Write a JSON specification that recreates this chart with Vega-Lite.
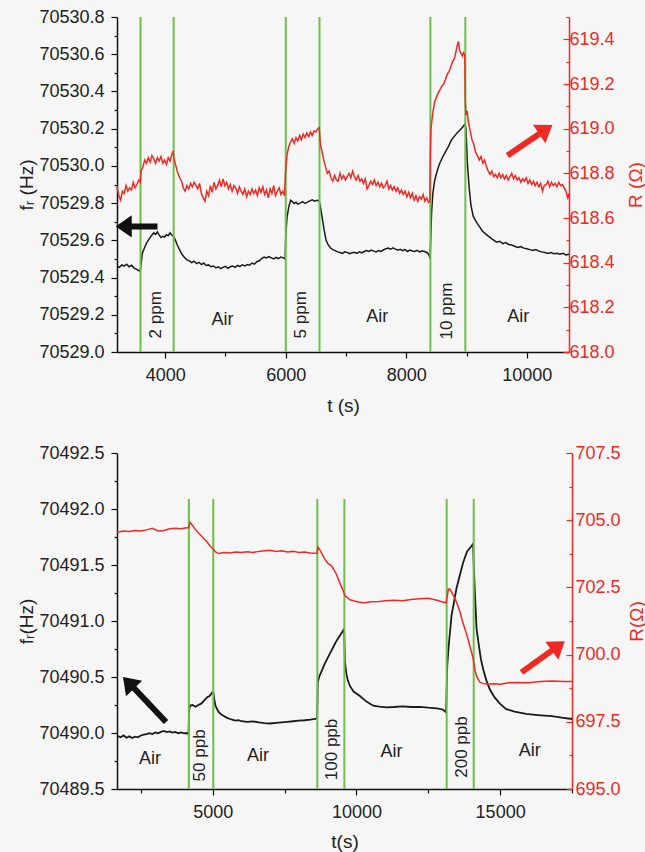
{
  "$schema": "https://vega.github.io/schema/vega-lite/v6.json",
  "background": "#f6f6f6",
  "padding": {"left": 17, "top": 8, "right": 73, "bottom": 60},
  "spacing": 101,
  "bounds": "flush",
  "config": {
    "view": {"stroke": null},
    "font": "Liberation Sans",
    "axis": {
      "labelFont": "Liberation Sans", "labelFontSize": 18, "labelColor": "#222",
      "titleFont": "Liberation Sans", "titleFontSize": 19, "titleFontWeight": "normal", "titleColor": "#222",
      "grid": false, "domainColor": "#111", "tickColor": "#111", "domainWidth": 1.5, "tickWidth": 1.2,
      "labelPadding": 4, "labelOverlap": false
    },
    "text": {"font": "Liberation Sans", "color": "#222"}
  },
  "datasets": {
    "topF": [
      {"t":3200,"f":70529.461},{"t":3240,"f":70529.455},{"t":3280,"f":70529.468},{"t":3320,"f":70529.462},{"t":3360,"f":70529.472},{"t":3400,"f":70529.458},{"t":3440,"f":70529.466},{"t":3480,"f":70529.452},{"t":3520,"f":70529.445},{"t":3560,"f":70529.438},{"t":3585,"f":70529.432},{"t":3600,"f":70529.47},{"t":3620,"f":70529.53},{"t":3650,"f":70529.555},{"t":3690,"f":70529.585},{"t":3730,"f":70529.605},{"t":3770,"f":70529.625},{"t":3810,"f":70529.64},{"t":3840,"f":70529.632},{"t":3870,"f":70529.645},{"t":3900,"f":70529.628},{"t":3930,"f":70529.615},{"t":3960,"f":70529.622},{"t":3990,"f":70529.618},{"t":4020,"f":70529.63},{"t":4050,"f":70529.625},{"t":4080,"f":70529.64},{"t":4110,"f":70529.628},{"t":4140,"f":70529.62},{"t":4170,"f":70529.6},{"t":4200,"f":70529.575},{"t":4230,"f":70529.555},{"t":4260,"f":70529.535},{"t":4290,"f":70529.52},{"t":4320,"f":70529.508},{"t":4360,"f":70529.495},{"t":4400,"f":70529.49},{"t":4440,"f":70529.48},{"t":4480,"f":70529.488},{"t":4520,"f":70529.475},{"t":4560,"f":70529.482},{"t":4600,"f":70529.47},{"t":4640,"f":70529.478},{"t":4680,"f":70529.465},{"t":4720,"f":70529.468},{"t":4760,"f":70529.458},{"t":4800,"f":70529.462},{"t":4840,"f":70529.452},{"t":4880,"f":70529.458},{"t":4920,"f":70529.448},{"t":4960,"f":70529.455},{"t":5000,"f":70529.46},{"t":5040,"f":70529.45},{"t":5080,"f":70529.458},{"t":5120,"f":70529.462},{"t":5160,"f":70529.455},{"t":5200,"f":70529.465},{"t":5240,"f":70529.46},{"t":5280,"f":70529.468},{"t":5320,"f":70529.462},{"t":5360,"f":70529.47},{"t":5400,"f":70529.466},{"t":5440,"f":70529.478},{"t":5480,"f":70529.472},{"t":5520,"f":70529.485},{"t":5560,"f":70529.49},{"t":5600,"f":70529.502},{"t":5640,"f":70529.51},{"t":5680,"f":70529.505},{"t":5720,"f":70529.512},{"t":5760,"f":70529.506},{"t":5800,"f":70529.5},{"t":5840,"f":70529.508},{"t":5880,"f":70529.502},{"t":5920,"f":70529.51},{"t":5960,"f":70529.506},{"t":5990,"f":70529.5},{"t":6000,"f":70529.62},{"t":6020,"f":70529.72},{"t":6050,"f":70529.78},{"t":6080,"f":70529.815},{"t":6110,"f":70529.808},{"t":6140,"f":70529.798},{"t":6170,"f":70529.805},{"t":6200,"f":70529.795},{"t":6240,"f":70529.8},{"t":6280,"f":70529.808},{"t":6320,"f":70529.798},{"t":6360,"f":70529.805},{"t":6400,"f":70529.812},{"t":6440,"f":70529.818},{"t":6480,"f":70529.81},{"t":6520,"f":70529.815},{"t":6555,"f":70529.812},{"t":6580,"f":70529.77},{"t":6610,"f":70529.71},{"t":6640,"f":70529.65},{"t":6670,"f":70529.6},{"t":6700,"f":70529.578},{"t":6740,"f":70529.56},{"t":6780,"f":70529.55},{"t":6820,"f":70529.545},{"t":6860,"f":70529.538},{"t":6900,"f":70529.535},{"t":6940,"f":70529.53},{"t":6980,"f":70529.538},{"t":7020,"f":70529.535},{"t":7060,"f":70529.528},{"t":7100,"f":70529.533},{"t":7140,"f":70529.536},{"t":7180,"f":70529.53},{"t":7220,"f":70529.538},{"t":7260,"f":70529.533},{"t":7300,"f":70529.54},{"t":7340,"f":70529.545},{"t":7380,"f":70529.54},{"t":7420,"f":70529.548},{"t":7460,"f":70529.542},{"t":7500,"f":70529.538},{"t":7540,"f":70529.545},{"t":7580,"f":70529.54},{"t":7620,"f":70529.548},{"t":7660,"f":70529.555},{"t":7700,"f":70529.558},{"t":7740,"f":70529.552},{"t":7780,"f":70529.56},{"t":7820,"f":70529.553},{"t":7860,"f":70529.547},{"t":7900,"f":70529.552},{"t":7940,"f":70529.545},{"t":7980,"f":70529.55},{"t":8020,"f":70529.54},{"t":8060,"f":70529.548},{"t":8100,"f":70529.543},{"t":8140,"f":70529.54},{"t":8180,"f":70529.546},{"t":8220,"f":70529.538},{"t":8260,"f":70529.544},{"t":8300,"f":70529.54},{"t":8340,"f":70529.535},{"t":8380,"f":70529.52},{"t":8395,"f":70529.5},{"t":8405,"f":70529.6},{"t":8420,"f":70529.75},{"t":8440,"f":70529.85},{"t":8470,"f":70529.92},{"t":8510,"f":70529.97},{"t":8550,"f":70530.01},{"t":8600,"f":70530.045},{"t":8650,"f":70530.075},{"t":8700,"f":70530.105},{"t":8750,"f":70530.14},{"t":8800,"f":70530.16},{"t":8850,"f":70530.18},{"t":8900,"f":70530.195},{"t":8940,"f":70530.21},{"t":8975,"f":70530.225},{"t":8990,"f":70530.2},{"t":9016,"f":70530.0},{"t":9045,"f":70529.88},{"t":9072,"f":70529.79},{"t":9110,"f":70529.73},{"t":9155,"f":70529.703},{"t":9200,"f":70529.68},{"t":9265,"f":70529.649},{"t":9350,"f":70529.625},{"t":9431,"f":70529.605},{"t":9500,"f":70529.59},{"t":9550,"f":70529.595},{"t":9600,"f":70529.582},{"t":9650,"f":70529.588},{"t":9700,"f":70529.578},{"t":9750,"f":70529.575},{"t":9800,"f":70529.568},{"t":9850,"f":70529.562},{"t":9900,"f":70529.566},{"t":9950,"f":70529.558},{"t":10000,"f":70529.555},{"t":10050,"f":70529.55},{"t":10100,"f":70529.546},{"t":10150,"f":70529.55},{"t":10200,"f":70529.542},{"t":10250,"f":70529.538},{"t":10300,"f":70529.535},{"t":10350,"f":70529.53},{"t":10400,"f":70529.534},{"t":10450,"f":70529.528},{"t":10500,"f":70529.53},{"t":10550,"f":70529.525},{"t":10600,"f":70529.53},{"t":10650,"f":70529.522},{"t":10700,"f":70529.525}
    ],
    "topR": [
      {"t":3200,"r":618.74},{"t":3230,"r":618.70},{"t":3260,"r":618.68},{"t":3290,"r":618.72},{"t":3320,"r":618.71},{"t":3350,"r":618.745},{"t":3380,"r":618.72},{"t":3410,"r":618.735},{"t":3440,"r":618.725},{"t":3470,"r":618.76},{"t":3500,"r":618.735},{"t":3530,"r":618.75},{"t":3560,"r":618.77},{"t":3585,"r":618.76},{"t":3600,"r":618.81},{"t":3630,"r":618.83},{"t":3660,"r":618.86},{"t":3690,"r":618.845},{"t":3720,"r":618.87},{"t":3750,"r":618.85},{"t":3780,"r":618.88},{"t":3810,"r":618.865},{"t":3840,"r":618.845},{"t":3870,"r":618.87},{"t":3900,"r":618.855},{"t":3930,"r":618.875},{"t":3960,"r":618.845},{"t":3990,"r":618.86},{"t":4020,"r":618.84},{"t":4050,"r":618.87},{"t":4080,"r":618.855},{"t":4110,"r":618.885},{"t":4130,"r":618.9},{"t":4150,"r":618.86},{"t":4180,"r":618.83},{"t":4210,"r":618.8},{"t":4240,"r":618.78},{"t":4270,"r":618.765},{"t":4300,"r":618.735},{"t":4330,"r":618.72},{"t":4360,"r":618.745},{"t":4390,"r":618.73},{"t":4420,"r":618.755},{"t":4450,"r":618.74},{"t":4480,"r":618.76},{"t":4510,"r":618.745},{"t":4540,"r":618.73},{"t":4570,"r":618.755},{"t":4600,"r":618.71},{"t":4630,"r":618.69},{"t":4660,"r":618.675},{"t":4690,"r":618.72},{"t":4720,"r":618.7},{"t":4750,"r":618.745},{"t":4780,"r":618.715},{"t":4810,"r":618.76},{"t":4840,"r":618.73},{"t":4870,"r":618.745},{"t":4900,"r":618.77},{"t":4930,"r":618.74},{"t":4960,"r":618.775},{"t":4990,"r":618.745},{"t":5020,"r":618.76},{"t":5050,"r":618.73},{"t":5080,"r":618.75},{"t":5110,"r":618.72},{"t":5140,"r":618.745},{"t":5170,"r":618.735},{"t":5200,"r":618.71},{"t":5230,"r":618.74},{"t":5260,"r":618.72},{"t":5290,"r":618.705},{"t":5320,"r":618.73},{"t":5350,"r":618.695},{"t":5380,"r":618.72},{"t":5410,"r":618.705},{"t":5440,"r":618.73},{"t":5470,"r":618.71},{"t":5500,"r":618.725},{"t":5530,"r":618.7},{"t":5560,"r":618.735},{"t":5590,"r":618.715},{"t":5620,"r":618.74},{"t":5650,"r":618.705},{"t":5680,"r":618.725},{"t":5710,"r":618.69},{"t":5740,"r":618.73},{"t":5770,"r":618.71},{"t":5800,"r":618.745},{"t":5830,"r":618.7},{"t":5860,"r":618.72},{"t":5890,"r":618.735},{"t":5920,"r":618.705},{"t":5950,"r":618.72},{"t":5980,"r":618.70},{"t":5995,"r":618.80},{"t":6020,"r":618.88},{"t":6050,"r":618.92},{"t":6080,"r":618.94},{"t":6110,"r":618.955},{"t":6140,"r":618.935},{"t":6170,"r":618.96},{"t":6200,"r":618.945},{"t":6230,"r":618.97},{"t":6260,"r":618.95},{"t":6290,"r":618.975},{"t":6320,"r":618.96},{"t":6350,"r":618.98},{"t":6380,"r":618.965},{"t":6410,"r":618.985},{"t":6440,"r":618.97},{"t":6470,"r":618.99},{"t":6500,"r":618.985},{"t":6530,"r":619.0},{"t":6555,"r":619.005},{"t":6575,"r":618.93},{"t":6600,"r":618.9},{"t":6630,"r":618.86},{"t":6660,"r":618.83},{"t":6690,"r":618.8},{"t":6720,"r":618.81},{"t":6750,"r":618.78},{"t":6780,"r":618.765},{"t":6810,"r":618.79},{"t":6840,"r":618.77},{"t":6870,"r":618.765},{"t":6900,"r":618.8},{"t":6930,"r":618.775},{"t":6960,"r":618.79},{"t":6990,"r":618.77},{"t":7020,"r":618.785},{"t":7050,"r":618.8},{"t":7080,"r":618.78},{"t":7110,"r":618.81},{"t":7140,"r":618.785},{"t":7170,"r":618.77},{"t":7200,"r":618.79},{"t":7230,"r":618.765},{"t":7260,"r":618.775},{"t":7290,"r":618.755},{"t":7320,"r":618.775},{"t":7350,"r":618.73},{"t":7380,"r":618.745},{"t":7410,"r":618.765},{"t":7440,"r":618.75},{"t":7470,"r":618.77},{"t":7500,"r":618.745},{"t":7530,"r":618.76},{"t":7560,"r":618.74},{"t":7590,"r":618.755},{"t":7620,"r":618.735},{"t":7650,"r":618.745},{"t":7680,"r":618.765},{"t":7710,"r":618.73},{"t":7740,"r":618.745},{"t":7770,"r":618.725},{"t":7800,"r":618.74},{"t":7830,"r":618.72},{"t":7860,"r":618.735},{"t":7890,"r":618.71},{"t":7920,"r":618.725},{"t":7950,"r":618.705},{"t":7980,"r":618.72},{"t":8010,"r":618.695},{"t":8040,"r":618.715},{"t":8070,"r":618.69},{"t":8100,"r":618.71},{"t":8130,"r":618.68},{"t":8160,"r":618.7},{"t":8190,"r":618.675},{"t":8220,"r":618.695},{"t":8250,"r":618.685},{"t":8280,"r":618.705},{"t":8310,"r":618.675},{"t":8340,"r":618.69},{"t":8370,"r":618.67},{"t":8390,"r":618.675},{"t":8400,"r":618.9},{"t":8410,"r":619.0},{"t":8440,"r":619.07},{"t":8470,"r":619.12},{"t":8500,"r":619.14},{"t":8530,"r":619.16},{"t":8560,"r":619.175},{"t":8590,"r":619.19},{"t":8620,"r":619.2},{"t":8650,"r":619.22},{"t":8680,"r":619.245},{"t":8710,"r":619.255},{"t":8740,"r":619.28},{"t":8770,"r":619.3},{"t":8800,"r":619.315},{"t":8820,"r":619.34},{"t":8845,"r":619.37},{"t":8865,"r":619.39},{"t":8885,"r":619.35},{"t":8905,"r":619.34},{"t":8930,"r":619.325},{"t":8950,"r":619.34},{"t":8970,"r":619.33},{"t":8980,"r":619.12},{"t":8990,"r":619.06},{"t":9010,"r":619.08},{"t":9030,"r":619.03},{"t":9060,"r":618.99},{"t":9090,"r":618.95},{"t":9120,"r":618.93},{"t":9150,"r":618.895},{"t":9180,"r":618.88},{"t":9210,"r":618.86},{"t":9240,"r":618.875},{"t":9270,"r":618.845},{"t":9300,"r":618.86},{"t":9330,"r":618.83},{"t":9360,"r":618.81},{"t":9390,"r":618.795},{"t":9420,"r":618.81},{"t":9450,"r":618.785},{"t":9480,"r":618.795},{"t":9510,"r":618.78},{"t":9540,"r":618.8},{"t":9570,"r":618.78},{"t":9600,"r":618.795},{"t":9630,"r":618.775},{"t":9660,"r":618.79},{"t":9690,"r":618.77},{"t":9720,"r":618.785},{"t":9750,"r":618.8},{"t":9780,"r":618.775},{"t":9810,"r":618.79},{"t":9840,"r":618.77},{"t":9870,"r":618.78},{"t":9900,"r":618.76},{"t":9930,"r":618.775},{"t":9960,"r":618.765},{"t":9990,"r":618.78},{"t":10020,"r":618.755},{"t":10050,"r":618.77},{"t":10080,"r":618.75},{"t":10110,"r":618.765},{"t":10140,"r":618.745},{"t":10170,"r":618.76},{"t":10200,"r":618.74},{"t":10230,"r":618.755},{"t":10260,"r":618.72},{"t":10290,"r":618.745},{"t":10320,"r":618.75},{"t":10350,"r":618.765},{"t":10380,"r":618.74},{"t":10410,"r":618.76},{"t":10440,"r":618.745},{"t":10470,"r":618.755},{"t":10500,"r":618.74},{"t":10530,"r":618.76},{"t":10560,"r":618.745},{"t":10590,"r":618.75},{"t":10620,"r":618.735},{"t":10650,"r":618.72},{"t":10680,"r":618.69},{"t":10700,"r":618.71}
    ],
    "botF": [
      {"t":1670,"f":70489.975},{"t":1800,"f":70489.962},{"t":1900,"f":70489.978},{"t":2000,"f":70489.958},{"t":2100,"f":70489.97},{"t":2200,"f":70489.955},{"t":2300,"f":70489.968},{"t":2400,"f":70489.962},{"t":2500,"f":70489.978},{"t":2600,"f":70489.985},{"t":2700,"f":70489.99},{"t":2800,"f":70489.998},{"t":2900,"f":70489.99},{"t":3000,"f":70490.005},{"t":3100,"f":70489.998},{"t":3200,"f":70490.01},{"t":3300,"f":70490.018},{"t":3400,"f":70490.008},{"t":3500,"f":70490.014},{"t":3600,"f":70490.004},{"t":3700,"f":70490.01},{"t":3800,"f":70489.998},{"t":3900,"f":70490.006},{"t":4000,"f":70489.996},{"t":4100,"f":70490.0},{"t":4160,"f":70489.99},{"t":4180,"f":70490.2},{"t":4210,"f":70490.245},{"t":4300,"f":70490.25},{"t":4400,"f":70490.235},{"t":4500,"f":70490.25},{"t":4600,"f":70490.262},{"t":4700,"f":70490.29},{"t":4800,"f":70490.318},{"t":4900,"f":70490.332},{"t":4980,"f":70490.36},{"t":5020,"f":70490.37},{"t":5060,"f":70490.29},{"t":5100,"f":70490.24},{"t":5200,"f":70490.19},{"t":5300,"f":70490.165},{"t":5400,"f":70490.15},{"t":5500,"f":70490.135},{"t":5600,"f":70490.125},{"t":5700,"f":70490.118},{"t":5800,"f":70490.11},{"t":5900,"f":70490.115},{"t":6000,"f":70490.105},{"t":6200,"f":70490.1},{"t":6400,"f":70490.104},{"t":6600,"f":70490.095},{"t":6800,"f":70490.088},{"t":7000,"f":70490.085},{"t":7200,"f":70490.09},{"t":7400,"f":70490.095},{"t":7600,"f":70490.1},{"t":7800,"f":70490.105},{"t":8000,"f":70490.11},{"t":8200,"f":70490.114},{"t":8400,"f":70490.12},{"t":8600,"f":70490.128},{"t":8635,"f":70490.135},{"t":8655,"f":70490.45},{"t":8700,"f":70490.5},{"t":8800,"f":70490.56},{"t":8900,"f":70490.62},{"t":9000,"f":70490.67},{"t":9100,"f":70490.72},{"t":9200,"f":70490.77},{"t":9300,"f":70490.82},{"t":9400,"f":70490.86},{"t":9500,"f":70490.9},{"t":9570,"f":70490.93},{"t":9600,"f":70490.63},{"t":9650,"f":70490.53},{"t":9700,"f":70490.47},{"t":9774,"f":70490.42},{"t":9900,"f":70490.37},{"t":10120,"f":70490.33},{"t":10350,"f":70490.28},{"t":10584,"f":70490.244},{"t":10800,"f":70490.235},{"t":11050,"f":70490.229},{"t":11300,"f":70490.232},{"t":11600,"f":70490.238},{"t":11900,"f":70490.232},{"t":12200,"f":70490.234},{"t":12500,"f":70490.226},{"t":12800,"f":70490.22},{"t":13000,"f":70490.21},{"t":13120,"f":70490.185},{"t":13160,"f":70490.6},{"t":13200,"f":70490.75},{"t":13310,"f":70491.05},{"t":13480,"f":70491.29},{"t":13600,"f":70491.41},{"t":13710,"f":70491.52},{"t":13850,"f":70491.62},{"t":14005,"f":70491.67},{"t":14060,"f":70491.69},{"t":14080,"f":70491.5},{"t":14130,"f":70491.2},{"t":14180,"f":70490.93},{"t":14250,"f":70490.8},{"t":14330,"f":70490.66},{"t":14410,"f":70490.57},{"t":14520,"f":70490.47},{"t":14640,"f":70490.39},{"t":14800,"f":70490.32},{"t":15000,"f":70490.26},{"t":15200,"f":70490.215},{"t":15500,"f":70490.19},{"t":15900,"f":70490.17},{"t":16300,"f":70490.16},{"t":16800,"f":70490.15},{"t":17200,"f":70490.135},{"t":17500,"f":70490.125}
    ],
    "botR": [
      {"t":1670,"r":704.55},{"t":1900,"r":704.6},{"t":2100,"r":704.58},{"t":2300,"r":704.62},{"t":2500,"r":704.6},{"t":2700,"r":704.64},{"t":2900,"r":704.7},{"t":3100,"r":704.6},{"t":3300,"r":704.62},{"t":3500,"r":704.68},{"t":3700,"r":704.7},{"t":3900,"r":704.68},{"t":4100,"r":704.72},{"t":4160,"r":704.72},{"t":4210,"r":704.92},{"t":4300,"r":704.8},{"t":4400,"r":704.65},{"t":4500,"r":704.52},{"t":4600,"r":704.42},{"t":4700,"r":704.3},{"t":4800,"r":704.2},{"t":4900,"r":704.05},{"t":5000,"r":703.95},{"t":5100,"r":703.82},{"t":5200,"r":703.76},{"t":5400,"r":703.8},{"t":5600,"r":703.78},{"t":5800,"r":703.82},{"t":6000,"r":703.8},{"t":6200,"r":703.83},{"t":6400,"r":703.8},{"t":6600,"r":703.84},{"t":6800,"r":703.86},{"t":7000,"r":703.88},{"t":7200,"r":703.84},{"t":7400,"r":703.86},{"t":7600,"r":703.82},{"t":7800,"r":703.84},{"t":8000,"r":703.8},{"t":8200,"r":703.82},{"t":8400,"r":703.78},{"t":8620,"r":703.76},{"t":8660,"r":704.0},{"t":8750,"r":703.85},{"t":8900,"r":703.55},{"t":9000,"r":703.4},{"t":9137,"r":703.3},{"t":9300,"r":703.0},{"t":9426,"r":702.65},{"t":9530,"r":702.4},{"t":9600,"r":702.2},{"t":9774,"r":702.04},{"t":9900,"r":702.0},{"t":10100,"r":701.95},{"t":10300,"r":701.93},{"t":10500,"r":701.97},{"t":10800,"r":701.98},{"t":11000,"r":702.0},{"t":11300,"r":702.02},{"t":11600,"r":702.0},{"t":11900,"r":702.05},{"t":12200,"r":702.08},{"t":12500,"r":702.1},{"t":12800,"r":702.02},{"t":13000,"r":701.96},{"t":13120,"r":701.92},{"t":13200,"r":702.44},{"t":13250,"r":702.44},{"t":13350,"r":702.25},{"t":13484,"r":701.95},{"t":13600,"r":701.6},{"t":13700,"r":701.2},{"t":13832,"r":700.77},{"t":13950,"r":700.3},{"t":14061,"r":699.85},{"t":14120,"r":699.45},{"t":14180,"r":699.2},{"t":14294,"r":698.97},{"t":14400,"r":698.92},{"t":14600,"r":698.9},{"t":14800,"r":698.92},{"t":15000,"r":698.9},{"t":15300,"r":698.95},{"t":15600,"r":698.96},{"t":16000,"r":698.95},{"t":16400,"r":699.0},{"t":16800,"r":699.02},{"t":17200,"r":699.0},{"t":17500,"r":699.0}
    ]
  },
  "vconcat": [
    {
      "width": 452, "height": 335,
      "layer": [
        {
          "layer": [
            {
              "data": {"name": "topF"},
              "mark": {"type": "line", "color": "#1a1a1a", "strokeWidth": 1.5},
              "encoding": {
                "x": {"field": "t", "type": "quantitative", "scale": {"domain": [3200, 10700], "nice": false, "zero": false},
                  "axis": {"title": "t (s)", "values": [4000,5000,6000,7000,8000,9000,10000], "labelOverlap": false, "tickCount": 40,
                    "labelExpr": "datum.value % 2000 == 0 ? '' + datum.value : ''",
                    "tickSize": {"condition": {"test": "datum.value % 2000 != 0", "value": 4}, "value": 6},
                    "labelPadding": 8, "titlePadding": 12}},
                "y": {"field": "f", "type": "quantitative", "scale": {"domain": [70529.0, 70530.8], "nice": false, "zero": false},
                  "axis": {"orient": "left", "title": "fᵣ (Hz)", "labelOverlap": false, "tickCount": 40,
                    "values": [70529.0,70529.1,70529.2,70529.3,70529.4,70529.5,70529.6,70529.7,70529.8,70529.9,70530.0,70530.1,70530.2,70530.3,70530.4,70530.5,70530.6,70530.7,70530.8],
                    "labelExpr": "round(datum.value*10) % 2 == 0 ? format(datum.value, '.1f') : ''",
                    "tickSize": {"condition": {"test": "round(datum.value*10) % 2 != 0", "value": 3}, "value": 6},
                    "labelPadding": 7, "titlePadding": 2}}
              }
            },
            {
              "data": {"values": [{"t":3590},{"t":4140},{"t":6000},{"t":6560},{"t":8400},{"t":8980}]},
              "mark": {"type": "rule", "color": "#6cc04a", "strokeWidth": 2},
              "encoding": {
                "x": {"field": "t", "type": "quantitative"},
                "y": {"datum": 70529.0, "type": "quantitative"},
                "y2": {"datum": 70530.8}
              }
            },
            {
              "data": {"values": [{"t":3851,"f":70529.2,"label":"2 ppm"},{"t":6254,"f":70529.2,"label":"5 ppm"},{"t":8680,"f":70529.22,"label":"10 ppm"}]},
              "mark": {"type": "text", "angle": 270, "fontSize": 17, "align": "center", "baseline": "middle"},
              "encoding": {
                "x": {"field": "t", "type": "quantitative"},
                "y": {"field": "f", "type": "quantitative"},
                "text": {"field": "label"}
              }
            },
            {
              "data": {"values": [{"t":4950,"f":70529.17,"label":"Air"},{"t":7519,"f":70529.19,"label":"Air"},{"t":9857,"f":70529.19,"label":"Air"}]},
              "mark": {"type": "text", "fontSize": 18, "align": "center", "baseline": "middle"},
              "encoding": {
                "x": {"field": "t", "type": "quantitative"},
                "y": {"field": "f", "type": "quantitative"},
                "text": {"field": "label"}
              }
            },
            {
              "data": {"values": [{"t1":3330,"t2":3872,"f1":70529.675,"f2":70529.675}]},
              "mark": {"type": "rule", "color": "#111", "strokeWidth": 6},
              "encoding": {
                "x": {"field": "t1", "type": "quantitative"},
                "x2": {"field": "t2"},
                "y": {"field": "f1", "type": "quantitative"},
                "y2": {"field": "f2"}
              }
            },
            {
              "data": {"values": [{"t":3312,"f":70529.675}]},
              "mark": {"type": "point", "shape": "M-1,-1.4L1,0L-1,1.4Z", "filled": true, "color": "#111", "opacity": 1, "size": 256, "angle": 180},
              "encoding": {
                "x": {"field": "t", "type": "quantitative"},
                "y": {"field": "f", "type": "quantitative"}
              }
            }
          ]
        },
        {
          "layer": [
            {
              "data": {"name": "topR"},
              "mark": {"type": "line", "color": "#ee2a24", "strokeWidth": 1.5},
              "encoding": {
                "x": {"field": "t", "type": "quantitative"},
                "y": {"field": "r", "type": "quantitative", "scale": {"domain": [618.0, 619.5], "nice": false, "zero": false},
                  "axis": {"orient": "right", "title": "R (Ω)", "titleAngle": 270, "titleBaseline": "top", "titleColor": "#ee2a24", "labelOverlap": false, "tickCount": 40,
                    "values": [618.0,618.1,618.2,618.3,618.4,618.5,618.6,618.7,618.8,618.9,619.0,619.1,619.2,619.3,619.4,619.5],
                    "labelExpr": "round(datum.value*10) % 2 == 0 ? format(datum.value, '.1f') : ''",
                    "tickSize": {"condition": {"test": "round(datum.value*10) % 2 != 0", "value": -3}, "value": -6},
                    "domainColor": "#ee2a24", "tickColor": "#ee2a24", "labelColor": "#ee2a24",
                    "labelPadding": 6, "titlePadding": 12}}
              }
            },
            {
              "data": {"values": [{"t1":9679,"t2":10261,"r1":618.88,"r2":618.986}]},
              "mark": {"type": "rule", "color": "#ee2a24", "strokeWidth": 6},
              "encoding": {
                "x": {"field": "t1", "type": "quantitative"},
                "x2": {"field": "t2"},
                "y": {"field": "r1", "type": "quantitative"},
                "y2": {"field": "r2"}
              }
            },
            {
              "data": {"values": [{"t":10315,"r":618.996}]},
              "mark": {"type": "point", "shape": "M-1,-1.4L1,0L-1,1.4Z", "filled": true, "color": "#ee2a24", "opacity": 1, "size": 256, "angle": 326},
              "encoding": {
                "x": {"field": "t", "type": "quantitative"},
                "y": {"field": "r", "type": "quantitative"}
              }
            }
          ]
        }
      ],
      "resolve": {"scale": {"y": "independent"}, "axis": {"y": "independent"}}
    },
    {
      "width": 455, "height": 336,
      "layer": [
        {
          "layer": [
            {
              "data": {"name": "botF"},
              "mark": {"type": "line", "color": "#1a1a1a", "strokeWidth": 1.8},
              "encoding": {
                "x": {"field": "t", "type": "quantitative", "scale": {"domain": [1670, 17500], "nice": false, "zero": false},
                  "axis": {"title": "t(s)", "values": [2500,5000,7500,10000,12500,15000,17500], "labelOverlap": false, "tickCount": 40,
                    "labelExpr": "datum.value % 5000 == 0 ? '' + datum.value : ''",
                    "tickSize": {"condition": {"test": "datum.value % 5000 != 0", "value": 4}, "value": 6},
                    "labelPadding": 8, "titlePadding": 11}},
                "y": {"field": "f", "type": "quantitative", "scale": {"domain": [70489.5, 70492.5], "nice": false, "zero": false},
                  "axis": {"orient": "left", "title": "fᵣ(Hz)", "labelOverlap": false, "tickCount": 40,
                    "values": [70489.5,70489.75,70490.0,70490.25,70490.5,70490.75,70491.0,70491.25,70491.5,70491.75,70492.0,70492.25,70492.5],
                    "labelExpr": "round(datum.value*4) % 2 == 0 ? format(datum.value, '.1f') : ''",
                    "tickSize": {"condition": {"test": "round(datum.value*4) % 2 != 0", "value": 3}, "value": 6},
                    "labelPadding": 7, "titlePadding": 2}}
              }
            },
            {
              "data": {"values": [{"t":4170},{"t":5020},{"t":8640},{"t":9580},{"t":13140},{"t":14080}]},
              "mark": {"type": "rule", "color": "#6cc04a", "strokeWidth": 2},
              "encoding": {
                "x": {"field": "t", "type": "quantitative"},
                "y": {"datum": 70489.5, "type": "quantitative"},
                "y2": {"datum": 70492.09}
              }
            },
            {
              "data": {"values": [{"t":4558,"f":70489.8,"label":"50 ppb"},{"t":9138,"f":70489.853,"label":"100 ppb"},{"t":13658,"f":70489.875,"label":"200 ppb"}]},
              "mark": {"type": "text", "angle": 270, "fontSize": 17, "align": "center", "baseline": "middle"},
              "encoding": {
                "x": {"field": "t", "type": "quantitative"},
                "y": {"field": "f", "type": "quantitative"},
                "text": {"field": "label"}
              }
            },
            {
              "data": {"values": [{"t":2820,"f":70489.768,"label":"Air"},{"t":6575,"f":70489.795,"label":"Air"},{"t":11224,"f":70489.83,"label":"Air"},{"t":16033,"f":70489.84,"label":"Air"}]},
              "mark": {"type": "text", "fontSize": 18, "align": "center", "baseline": "middle"},
              "encoding": {
                "x": {"field": "t", "type": "quantitative"},
                "y": {"field": "f", "type": "quantitative"},
                "text": {"field": "label"}
              }
            },
            {
              "data": {"values": [{"t1":3376,"t2":2159,"f1":70490.098,"f2":70490.429}]},
              "mark": {"type": "rule", "color": "#111", "strokeWidth": 6},
              "encoding": {
                "x": {"field": "t1", "type": "quantitative"},
                "x2": {"field": "t2"},
                "y": {"field": "f1", "type": "quantitative"},
                "y2": {"field": "f2"}
              }
            },
            {
              "data": {"values": [{"t":2072,"f":70490.448}]},
              "mark": {"type": "point", "shape": "M-1,-1.4L1,0L-1,1.4Z", "filled": true, "color": "#111", "opacity": 1, "size": 256, "angle": 226},
              "encoding": {
                "x": {"field": "t", "type": "quantitative"},
                "y": {"field": "f", "type": "quantitative"}
              }
            }
          ]
        },
        {
          "layer": [
            {
              "data": {"name": "botR"},
              "mark": {"type": "line", "color": "#ee2a24", "strokeWidth": 1.5},
              "encoding": {
                "x": {"field": "t", "type": "quantitative"},
                "y": {"field": "r", "type": "quantitative", "scale": {"domain": [695.0, 707.5], "nice": false, "zero": false},
                  "axis": {"orient": "right", "title": "R(Ω)", "titleAngle": 270, "titleBaseline": "top", "titleColor": "#ee2a24", "labelOverlap": false, "tickCount": 40,
                    "values": [695.0,696.25,697.5,698.75,700.0,701.25,702.5,703.75,705.0,706.25,707.5],
                    "labelExpr": "round(datum.value/1.25) % 2 == 0 ? format(datum.value, '.1f') : ''",
                    "tickSize": {"condition": {"test": "round(datum.value/1.25) % 2 != 0", "value": -3}, "value": -6},
                    "domainColor": "#ee2a24", "tickColor": "#ee2a24", "labelColor": "#ee2a24",
                    "labelPadding": 9, "titlePadding": 7}}
              }
            },
            {
              "data": {"values": [{"t1":15744,"t2":16902,"r1":699.34,"r2":700.23}]},
              "mark": {"type": "rule", "color": "#ee2a24", "strokeWidth": 6},
              "encoding": {
                "x": {"field": "t1", "type": "quantitative"},
                "x2": {"field": "t2"},
                "y": {"field": "r1", "type": "quantitative"},
                "y2": {"field": "r2"}
              }
            },
            {
              "data": {"values": [{"t":17024,"r":700.32}]},
              "mark": {"type": "point", "shape": "M-1,-1.4L1,0L-1,1.4Z", "filled": true, "color": "#ee2a24", "opacity": 1, "size": 256, "angle": 324},
              "encoding": {
                "x": {"field": "t", "type": "quantitative"},
                "y": {"field": "r", "type": "quantitative"}
              }
            }
          ]
        }
      ],
      "resolve": {"scale": {"y": "independent"}, "axis": {"y": "independent"}}
    }
  ]
}
